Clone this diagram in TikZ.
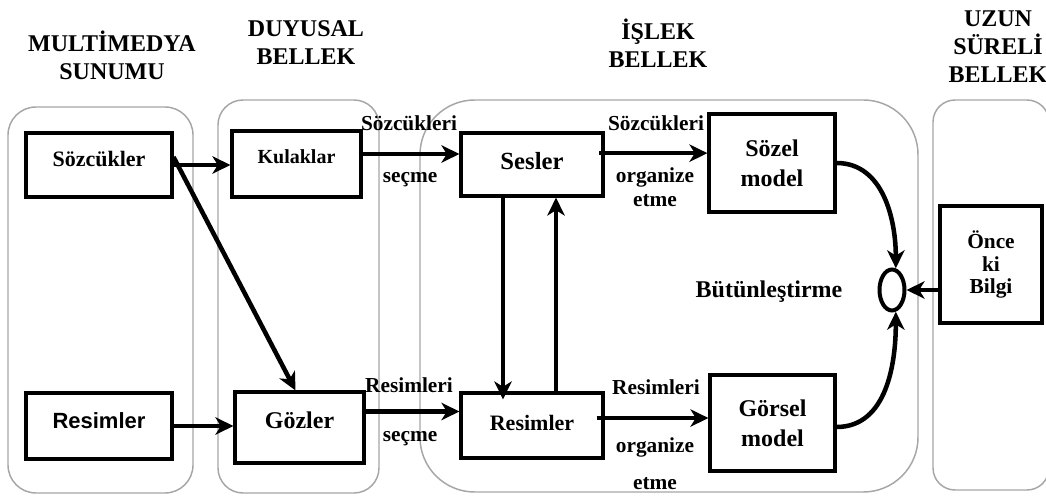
\documentclass[tikz,border=0pt]{standalone}
\usepackage{fontspec}
\setmainfont{Liberation Serif}
\setsansfont{Liberation Sans}
\usetikzlibrary{arrows.meta,shapes.geometric}

\tikzset{
  panel/.style={draw=gray!70, line width=1.1pt},
  box/.style={draw, line width=2.3pt, inner sep=0pt, align=center},
  onebox/.style={box, text height=12pt, text depth=#1},
  arr/.style={line width=3.4pt, -{Stealth[length=13.5pt,width=13pt,inset=4pt]}},
  lbl/.style={font=\fontsize{16}{19}\selectfont\bfseries, inner sep=0pt, anchor=base},
  title/.style={font=\fontsize{18}{21}\selectfont\bfseries, align=center, inner sep=0pt, anchor=base},
}

\begin{document}
\begin{tikzpicture}[x=0.75pt,y=-0.75pt]
\useasboundingbox (0,0) rectangle (1046,498);
\clip (0,0) rectangle (1046,498);

% memory stage panels
\draw[panel, rounded corners=21pt]   (8,107)   rectangle (193,493);
\draw[panel, rounded corners=18.75pt] (218,100) rectangle (379,493);
\draw[panel, rounded corners=41pt]   (420,100) rectangle (918,492);
\draw[panel, rounded corners=16.5pt] (933,100) rectangle (1049,490);

% stage titles (anchored at the baseline of the last line)
\node[title] (t1) at (112,80) {MULTİMEDYA\\SUNUMU};
\node[title] (t2) at (306,65) {DUYUSAL\\BELLEK};
\node[title] (t3) at (658,68) {İŞLEK\\BELLEK};
\node[title] (t4) at (998,83) {UZUN\\SÜRELİ\\BELLEK};

% boxes
\node[onebox=9.5pt, minimum width=109.5pt, minimum height=48pt,
      font=\fontsize{16.5}{19}\selectfont\bfseries] (szc) at (99,165) {Sözcükler};
\node[onebox=8.7pt, minimum width=109.5pt, minimum height=49.5pt,
      font=\fontsize{16.5}{19}\selectfont\sffamily\bfseries] (resL) at (99,426) {Resimler};
\node[onebox=12.5pt, minimum width=96.75pt, minimum height=49.5pt,
      font=\fontsize{15}{18}\selectfont\bfseries] (kul) at (296.5,164) {Kulaklar};
\node[onebox=11.2pt, minimum width=96.75pt, minimum height=53.25pt,
      font=\fontsize{18}{21}\selectfont\bfseries] (goz) at (299.5,427.5) {Gözler};
\node[onebox=4.6pt, minimum width=106.5pt, minimum height=47.25pt,
      font=\fontsize{18.5}{21}\selectfont\bfseries] (ses) at (532,164.5) {Sesler};
\node[onebox=5pt, minimum width=106.5pt, minimum height=48.75pt,
      font=\fontsize{16.5}{19}\selectfont\bfseries] (resM) at (532,425.5) {Resimler};
\node[box, minimum width=94.5pt, minimum height=73.5pt,
      font=\fontsize{18}{22.5}\selectfont\bfseries] (sozel) at (772,163) {Sözel\\model};
\node[box, minimum width=93.75pt, minimum height=72pt,
      font=\fontsize{18}{22.5}\selectfont\bfseries] (gorsel) at (772.5,423) {Görsel\\model};
\node[box, minimum width=76.5pt, minimum height=87.75pt,
      font=\fontsize{16}{17}\selectfont\bfseries] (once) at (991,264.5) {Önce\\ki\\Bilgi};
\node[draw, ellipse, line width=3pt, inner sep=0pt,
      minimum width=18.75pt, minimum height=30.75pt] (ell) at (892,290) {};

% connector labels
\node[lbl] (l1)  at (409,131) {Sözcükleri};
\node[lbl] (l2)  at (410,183) {seçme};
\node[lbl] (l3)  at (409,393) {Resimleri};
\node[lbl] (l4)  at (410,442) {seçme};
\node[lbl] (l5)  at (656,131) {Sözcükleri};
\node[lbl] (l6)  at (655,183) {organize};
\node[lbl] (l7)  at (655,207) {etme};
\node[lbl] (l8)  at (656,395) {Resimleri};
\node[lbl] (l9)  at (655,453) {organize};
\node[lbl] (l10) at (655,490) {etme};
\node[lbl, font=\fontsize{18}{21}\selectfont\bfseries] (intg) at (769,298) {Bütünleştirme};

% connectors
\draw[arr] (szc.east) -- (szc.east -| kul.west);
\draw[arr] ([yshift=6pt]szc.east) -- ([xshift=-3pt]goz.north);
\draw[arr] (resL.east) -- (resL.east -| goz.west);
\draw[arr] ([xshift=-3pt,yshift=7.5pt]kul.east) -- ([yshift=7.5pt]kul.east -| ses.west);
\draw[arr] ([yshift=12pt]goz.east) -- ([yshift=12pt]goz.east -| resM.west);
\draw[arr] ([xshift=-4pt,yshift=8.5pt]ses.east) -- ([yshift=8.5pt]ses.east -| sozel.west);
\draw[arr] ([xshift=-6pt,yshift=5.6pt]resM.east) -- ([yshift=5.6pt]resM.east -| gorsel.west);
\draw[arr] ([xshift=-21.75pt]ses.south) -- ([xshift=-21.75pt,yshift=-6pt]ses.south |- resM.north);
\draw[arr] ([xshift=18pt]resM.north) -- ([xshift=18pt]resM.north |- ses.south);
\draw[arr] (sozel.east) to[out=0,in=90] (ell.80);
\draw[arr] ([yshift=-3pt]gorsel.east) to[out=0,in=-90] (ell.-80);
\draw[arr] (once.west |- ell.east) -- (ell.east);
\end{tikzpicture}
\end{document}
